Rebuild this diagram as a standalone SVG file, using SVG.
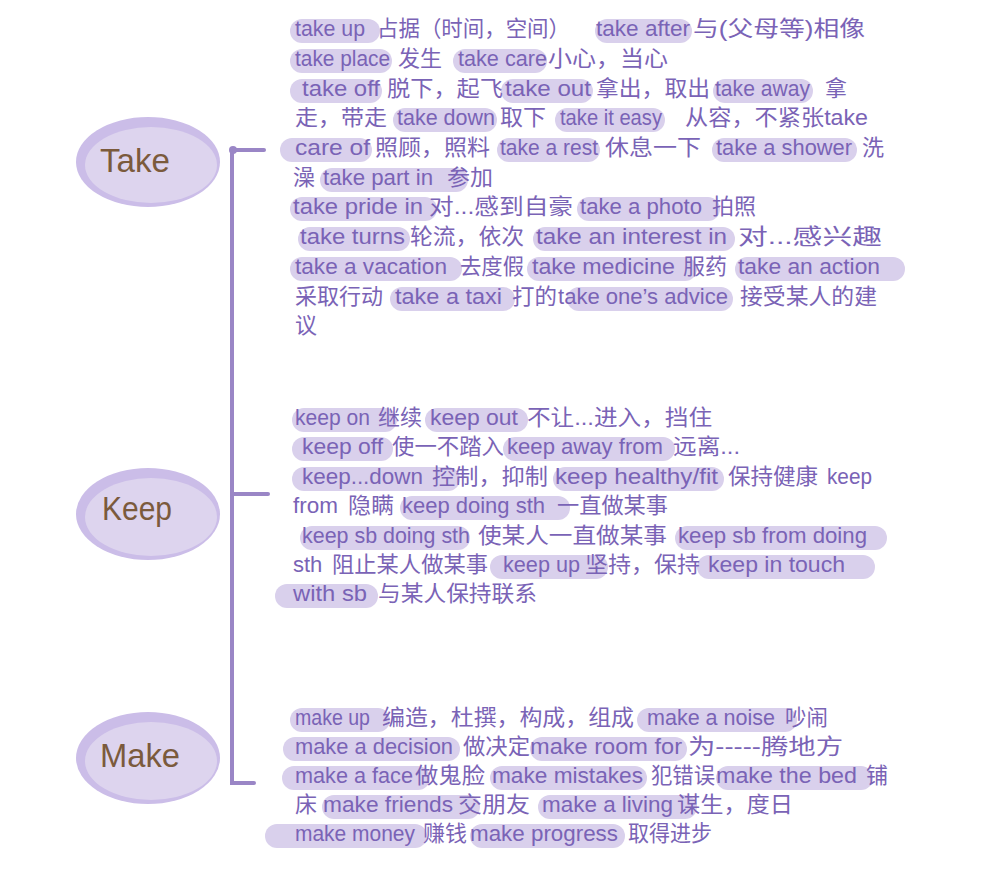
<svg xmlns="http://www.w3.org/2000/svg" width="1000" height="870" viewBox="0 0 1000 870">
<style>
.bg{fill:#ffffff}
.ring{fill:#cbbde8}
.core{fill:#ddd4ee}
.lbl{font-family:"Liberation Sans","DejaVu Sans",sans-serif;font-size:34px;fill:#7b5a3c}
.t{font-family:"Liberation Sans","Noto Sans CJK SC",sans-serif;font-size:22px;fill:#7a63b6}
.hl{fill:#d9d0ec}
.conn{stroke:#9a86c6;stroke-width:4;fill:none;stroke-linecap:round}
</style>
<rect class="bg" x="0" y="0" width="1000" height="870"/>

<g id="connectors">
<path class="conn" d="M232 150 V783 H254"/>
<path class="conn" d="M232 150 H264"/>
<path class="conn" d="M232 494 H268"/>
<circle cx="233" cy="150" r="4" fill="#9a86c6"/>
</g>

<g id="node-take">
<ellipse class="ring" cx="148" cy="162" rx="72" ry="45"/>
<ellipse class="core" cx="151" cy="165" rx="66" ry="38"/>
<text class="lbl" x="100" y="172" textLength="70" lengthAdjust="spacingAndGlyphs">Take</text>
</g>
<g id="node-keep">
<ellipse class="ring" cx="148" cy="514" rx="72" ry="46"/>
<ellipse class="core" cx="151" cy="517" rx="66" ry="39"/>
<text class="lbl" x="102" y="520" textLength="70" lengthAdjust="spacingAndGlyphs">Keep</text>
</g>
<g id="node-make">
<ellipse class="ring" cx="148" cy="758" rx="72" ry="46"/>
<ellipse class="core" cx="151" cy="761" rx="66" ry="39"/>
<text class="lbl" x="100" y="767" textLength="80" lengthAdjust="spacingAndGlyphs">Make</text>
</g>

<g id="take-highlights">
<rect class="hl" x="290" y="19" width="90" height="24" rx="12"/>
<rect class="hl" x="595" y="19" width="97" height="24" rx="12"/>
<rect class="hl" x="290" y="49" width="102" height="24" rx="12"/>
<rect class="hl" x="453" y="49" width="94" height="24" rx="12"/>
<rect class="hl" x="290" y="79" width="92" height="24" rx="12"/>
<rect class="hl" x="501" y="79" width="92" height="24" rx="12"/>
<rect class="hl" x="713" y="79" width="100" height="24" rx="12"/>
<rect class="hl" x="393" y="108" width="104" height="24" rx="12"/>
<rect class="hl" x="555" y="108" width="110" height="24" rx="12"/>
<rect class="hl" x="280" y="138" width="92" height="24" rx="12"/>
<rect class="hl" x="497" y="138" width="103" height="24" rx="12"/>
<rect class="hl" x="712" y="138" width="145" height="24" rx="12"/>
<rect class="hl" x="320" y="168" width="148" height="24" rx="12"/>
<rect class="hl" x="290" y="197" width="147" height="24" rx="12"/>
<rect class="hl" x="577" y="197" width="143" height="24" rx="12"/>
<rect class="hl" x="298" y="227" width="112" height="24" rx="12"/>
<rect class="hl" x="533" y="227" width="202" height="24" rx="12"/>
<rect class="hl" x="290" y="257" width="172" height="24" rx="12"/>
<rect class="hl" x="527" y="257" width="170" height="24" rx="12"/>
<rect class="hl" x="735" y="257" width="170" height="24" rx="12"/>
<rect class="hl" x="390" y="287" width="125" height="24" rx="12"/>
<rect class="hl" x="567" y="287" width="166" height="24" rx="12"/>
</g>
<g id="take-text">
<text class="t" y="36"><tspan x="295" textLength="70" lengthAdjust="spacingAndGlyphs">take up</tspan><tspan x="377" textLength="193" lengthAdjust="spacingAndGlyphs">占据（时间，空间）</tspan><tspan x="596" textLength="94" lengthAdjust="spacingAndGlyphs">take after</tspan><tspan x="693" textLength="172" lengthAdjust="spacingAndGlyphs">与(父母等)相像</tspan></text>
<text class="t" y="66"><tspan x="295" textLength="95" lengthAdjust="spacingAndGlyphs">take place</tspan><tspan x="398" textLength="44" lengthAdjust="spacingAndGlyphs">发生</tspan><tspan x="458" textLength="89" lengthAdjust="spacingAndGlyphs">take care</tspan><tspan x="548" textLength="120" lengthAdjust="spacingAndGlyphs">小心，当心</tspan></text>
<text class="t" y="96"><tspan x="302" textLength="78" lengthAdjust="spacingAndGlyphs">take off</tspan><tspan x="387" textLength="116" lengthAdjust="spacingAndGlyphs">脱下，起飞</tspan><tspan x="505" textLength="86" lengthAdjust="spacingAndGlyphs">take out</tspan><tspan x="596" textLength="114" lengthAdjust="spacingAndGlyphs">拿出，取出</tspan><tspan x="715" textLength="95" lengthAdjust="spacingAndGlyphs">take away</tspan><tspan x="825">拿</tspan></text>
<text class="t" y="125"><tspan x="295" textLength="92" lengthAdjust="spacingAndGlyphs">走，带走</tspan><tspan x="397" textLength="98" lengthAdjust="spacingAndGlyphs">take down</tspan><tspan x="500" textLength="46" lengthAdjust="spacingAndGlyphs">取下</tspan><tspan x="560" textLength="102" lengthAdjust="spacingAndGlyphs">take it easy</tspan><tspan x="685" textLength="183" lengthAdjust="spacingAndGlyphs">从容，不紧张take</tspan></text>
<text class="t" y="155"><tspan x="295" textLength="75" lengthAdjust="spacingAndGlyphs">care of</tspan><tspan x="375" textLength="115" lengthAdjust="spacingAndGlyphs">照顾，照料</tspan><tspan x="500" textLength="98" lengthAdjust="spacingAndGlyphs">take a rest</tspan><tspan x="605" textLength="96" lengthAdjust="spacingAndGlyphs">休息一下</tspan><tspan x="716" textLength="136" lengthAdjust="spacingAndGlyphs">take a shower</tspan><tspan x="862">洗</tspan></text>
<text class="t" y="185"><tspan x="293">澡</tspan><tspan x="323" textLength="110" lengthAdjust="spacingAndGlyphs">take part in</tspan><tspan x="447" textLength="46" lengthAdjust="spacingAndGlyphs">参加</tspan></text>
<text class="t" y="214"><tspan x="293" textLength="130" lengthAdjust="spacingAndGlyphs">take pride in</tspan><tspan x="429" textLength="144" lengthAdjust="spacingAndGlyphs">对...感到自豪</tspan><tspan x="580" textLength="122" lengthAdjust="spacingAndGlyphs">take a photo</tspan><tspan x="712" textLength="44" lengthAdjust="spacingAndGlyphs">拍照</tspan></text>
<text class="t" y="244"><tspan x="300" textLength="105" lengthAdjust="spacingAndGlyphs">take turns</tspan><tspan x="410" textLength="114" lengthAdjust="spacingAndGlyphs">轮流，依次</tspan><tspan x="536" textLength="191" lengthAdjust="spacingAndGlyphs">take an interest in</tspan><tspan x="738" textLength="144" lengthAdjust="spacingAndGlyphs">对...感兴趣</tspan></text>
<text class="t" y="274"><tspan x="295" textLength="152" lengthAdjust="spacingAndGlyphs">take a vacation</tspan><tspan x="460" textLength="64" lengthAdjust="spacingAndGlyphs">去度假</tspan><tspan x="532" textLength="143" lengthAdjust="spacingAndGlyphs">take medicine</tspan><tspan x="683" textLength="44" lengthAdjust="spacingAndGlyphs">服药</tspan><tspan x="738" textLength="142" lengthAdjust="spacingAndGlyphs">take an action</tspan></text>
<text class="t" y="304"><tspan x="295" textLength="88" lengthAdjust="spacingAndGlyphs">采取行动</tspan><tspan x="395" textLength="107" lengthAdjust="spacingAndGlyphs">take a taxi</tspan><tspan x="512" textLength="45" lengthAdjust="spacingAndGlyphs">打的</tspan><tspan x="558" textLength="170" lengthAdjust="spacingAndGlyphs">take one’s advice</tspan><tspan x="740" textLength="137" lengthAdjust="spacingAndGlyphs">接受某人的建</tspan></text>
<text class="t" y="333"><tspan x="295">议</tspan></text>
</g>

<g id="keep-highlights">
<rect class="hl" x="292" y="408" width="105" height="24" rx="12"/>
<rect class="hl" x="425" y="408" width="103" height="24" rx="12"/>
<rect class="hl" x="292" y="437" width="101" height="24" rx="12"/>
<rect class="hl" x="503" y="437" width="172" height="24" rx="12"/>
<rect class="hl" x="292" y="467" width="168" height="24" rx="12"/>
<rect class="hl" x="553" y="467" width="171" height="24" rx="12"/>
<rect class="hl" x="400" y="496" width="170" height="24" rx="12"/>
<rect class="hl" x="300" y="526" width="170" height="24" rx="12"/>
<rect class="hl" x="675" y="526" width="212" height="24" rx="12"/>
<rect class="hl" x="490" y="555" width="118" height="24" rx="12"/>
<rect class="hl" x="697" y="555" width="178" height="24" rx="12"/>
<rect class="hl" x="275" y="584" width="103" height="24" rx="12"/>
</g>
<g id="keep-text">
<text class="t" y="425"><tspan x="295" textLength="75" lengthAdjust="spacingAndGlyphs">keep on</tspan><tspan x="378" textLength="44" lengthAdjust="spacingAndGlyphs">继续</tspan><tspan x="430" textLength="88" lengthAdjust="spacingAndGlyphs">keep out</tspan><tspan x="527" textLength="185" lengthAdjust="spacingAndGlyphs">不让...进入，挡住</tspan></text>
<text class="t" y="454"><tspan x="302" textLength="81" lengthAdjust="spacingAndGlyphs">keep off</tspan><tspan x="392" textLength="112" lengthAdjust="spacingAndGlyphs">使一不踏入</tspan><tspan x="507" textLength="156" lengthAdjust="spacingAndGlyphs">keep away from</tspan><tspan x="673" textLength="67" lengthAdjust="spacingAndGlyphs">远离...</tspan></text>
<text class="t" y="484"><tspan x="302" textLength="121" lengthAdjust="spacingAndGlyphs">keep...down</tspan><tspan x="432" textLength="116" lengthAdjust="spacingAndGlyphs">控制，抑制</tspan><tspan x="555" textLength="163" lengthAdjust="spacingAndGlyphs">keep healthy/fit</tspan><tspan x="728" textLength="90" lengthAdjust="spacingAndGlyphs">保持健康</tspan><tspan x="827" textLength="45" lengthAdjust="spacingAndGlyphs">keep</tspan></text>
<text class="t" y="513"><tspan x="293" textLength="45" lengthAdjust="spacingAndGlyphs">from</tspan><tspan x="348" textLength="46" lengthAdjust="spacingAndGlyphs">隐瞒</tspan><tspan x="402" textLength="143" lengthAdjust="spacingAndGlyphs">keep doing sth</tspan><tspan x="557" textLength="111" lengthAdjust="spacingAndGlyphs">一直做某事</tspan></text>
<text class="t" y="543"><tspan x="302" textLength="168" lengthAdjust="spacingAndGlyphs">keep sb doing sth</tspan><tspan x="478" textLength="189" lengthAdjust="spacingAndGlyphs">使某人一直做某事</tspan><tspan x="678" textLength="189" lengthAdjust="spacingAndGlyphs">keep sb from doing</tspan></text>
<text class="t" y="572"><tspan x="293">sth</tspan><tspan x="332" textLength="156" lengthAdjust="spacingAndGlyphs">阻止某人做某事</tspan><tspan x="503" textLength="77" lengthAdjust="spacingAndGlyphs">keep up</tspan><tspan x="585" textLength="115" lengthAdjust="spacingAndGlyphs">坚持，保持</tspan><tspan x="708" textLength="137" lengthAdjust="spacingAndGlyphs">keep in touch</tspan></text>
<text class="t" y="601"><tspan x="293" textLength="74" lengthAdjust="spacingAndGlyphs">with sb</tspan><tspan x="378" textLength="159" lengthAdjust="spacingAndGlyphs">与某人保持联系</tspan></text>
</g>

<g id="make-highlights">
<rect class="hl" x="290" y="708" width="100" height="24" rx="12"/>
<rect class="hl" x="637" y="708" width="160" height="24" rx="12"/>
<rect class="hl" x="283" y="737" width="177" height="24" rx="12"/>
<rect class="hl" x="530" y="737" width="157" height="24" rx="12"/>
<rect class="hl" x="282" y="766" width="148" height="24" rx="12"/>
<rect class="hl" x="490" y="766" width="157" height="24" rx="12"/>
<rect class="hl" x="716" y="766" width="157" height="24" rx="12"/>
<rect class="hl" x="322" y="795" width="158" height="24" rx="12"/>
<rect class="hl" x="538" y="795" width="159" height="24" rx="12"/>
<rect class="hl" x="265" y="824" width="162" height="24" rx="12"/>
<rect class="hl" x="470" y="824" width="155" height="24" rx="12"/>
</g>
<g id="make-text">
<text class="t" y="725"><tspan x="295" textLength="75" lengthAdjust="spacingAndGlyphs">make up</tspan><tspan x="382" textLength="252" lengthAdjust="spacingAndGlyphs">编造，杜撰，构成，组成</tspan><tspan x="647" textLength="128" lengthAdjust="spacingAndGlyphs">make a noise</tspan><tspan x="785" textLength="43" lengthAdjust="spacingAndGlyphs">吵闹</tspan></text>
<text class="t" y="754"><tspan x="295" textLength="158" lengthAdjust="spacingAndGlyphs">make a decision</tspan><tspan x="463" textLength="67" lengthAdjust="spacingAndGlyphs">做决定</tspan><tspan x="530" textLength="152" lengthAdjust="spacingAndGlyphs">make room for</tspan><tspan x="688" textLength="155" lengthAdjust="spacingAndGlyphs">为-----腾地方</tspan></text>
<text class="t" y="783"><tspan x="295" textLength="118" lengthAdjust="spacingAndGlyphs">make a face</tspan><tspan x="415" textLength="70" lengthAdjust="spacingAndGlyphs">做鬼脸</tspan><tspan x="492" textLength="151" lengthAdjust="spacingAndGlyphs">make mistakes</tspan><tspan x="651" textLength="64" lengthAdjust="spacingAndGlyphs">犯错误</tspan><tspan x="716" textLength="141" lengthAdjust="spacingAndGlyphs">make the bed</tspan><tspan x="866">铺</tspan></text>
<text class="t" y="812"><tspan x="295">床</tspan><tspan x="323" textLength="130" lengthAdjust="spacingAndGlyphs">make friends</tspan><tspan x="458" textLength="72" lengthAdjust="spacingAndGlyphs">交朋友</tspan><tspan x="542" textLength="131" lengthAdjust="spacingAndGlyphs">make a living</tspan><tspan x="677" textLength="116" lengthAdjust="spacingAndGlyphs">谋生，度日</tspan></text>
<text class="t" y="841"><tspan x="295" textLength="120" lengthAdjust="spacingAndGlyphs">make money</tspan><tspan x="423" textLength="44" lengthAdjust="spacingAndGlyphs">赚钱</tspan><tspan x="470" textLength="148" lengthAdjust="spacingAndGlyphs">make progress</tspan><tspan x="628" textLength="84" lengthAdjust="spacingAndGlyphs">取得进步</tspan></text>
</g>
</svg>
